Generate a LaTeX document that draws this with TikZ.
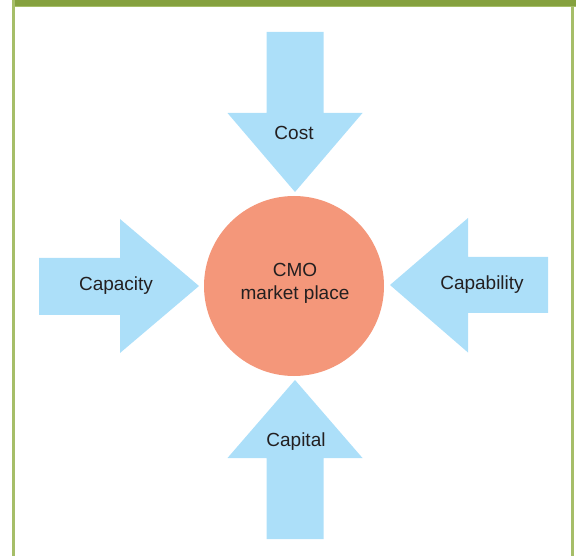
\documentclass[tikz,border=0pt]{standalone}
\usepackage{fontspec}
\setmainfont{Liberation Sans}
\usetikzlibrary{positioning}

\definecolor{bargreen}{RGB}{133,161,63}
\definecolor{framegreen}{RGB}{166,190,104}
\definecolor{forceblue}{RGB}{172,223,249}
\definecolor{marketred}{RGB}{244,151,122}
\definecolor{textgray}{RGB}{35,31,32}

\tikzset{
  force/.style={fill=forceblue},
  forcelabel/.style={text=textgray, font=\fontsize{19}{23}\selectfont, inner sep=0pt},
}

\begin{document}
\begin{tikzpicture}[x=1pt, y=-1pt]
	\useasboundingbox (0,0) rectangle (576,556);
	% frame
	\fill[bargreen] (12,0) rectangle (576,6);
	\fill[framegreen] (12,6) rectangle (576,7.5);
	\fill[framegreen] (12,0) rectangle (14.5,556);
	\fill[framegreen] (571,7) rectangle (573.5,556);
	% the four forces
	\fill[force] (266.5,32) -- (323.5,32) -- (323.5,113) -- (362.5,113) -- (295,192) -- (227.5,113) -- (266.5,113) -- cycle;
	\fill[force] (266.5,539) -- (323.5,539) -- (323.5,458) -- (362.5,458) -- (295,380) -- (227.5,458) -- (266.5,458) -- cycle;
	\fill[force] (39,258) -- (39,315) -- (120,315) -- (120,353) -- (199,286) -- (120,219) -- (120,258) -- cycle;
	\fill[force] (548,257) -- (548,313) -- (468,313) -- (468,352.5) -- (390,285) -- (468,218) -- (468,257) -- cycle;
	% market
	\node[circle, fill=marketred, minimum size=180pt, inner sep=0pt] (market) at (294,286) {};
	\node[forcelabel, align=center] (marketlabel) at (295,283.5) {CMO\\market place};
	\node[forcelabel] (cost) at (294,133) {Cost};
	\node[forcelabel] (capital) at (296,442) {Capital};
	\node[forcelabel] (capacity) at (116,286) {Capacity};
	\node[forcelabel] (capability) at (482,285) {Capability};
\end{tikzpicture}
\end{document}
